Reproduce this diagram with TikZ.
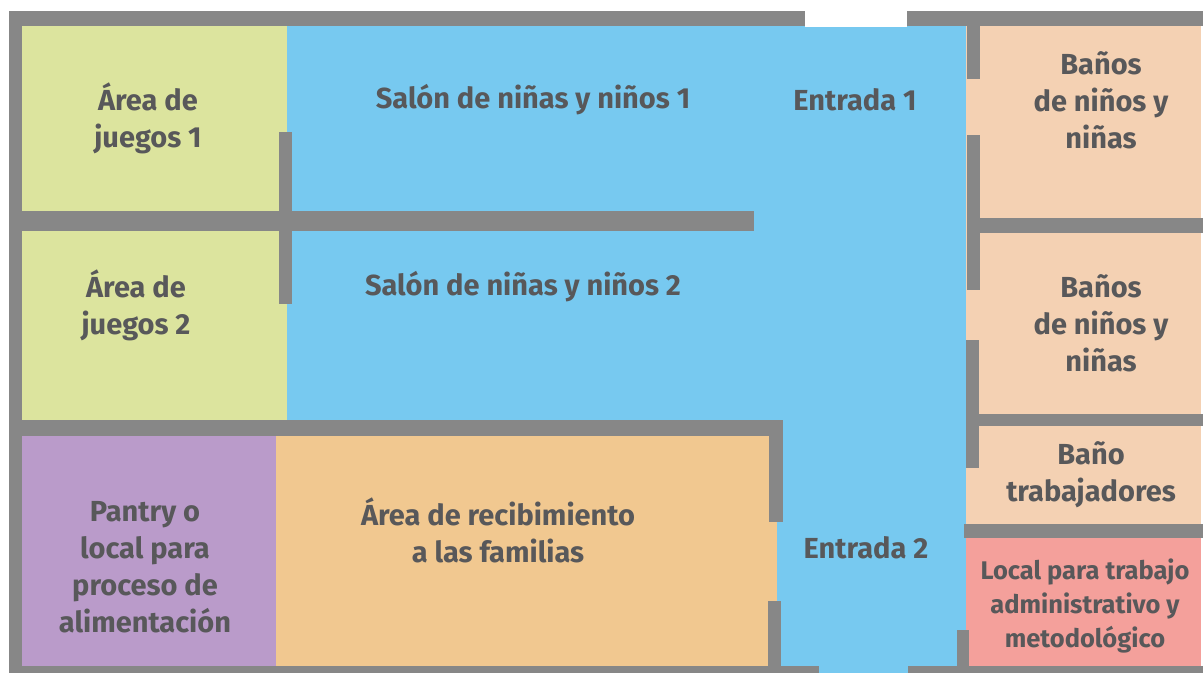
\documentclass[tikz,border=0pt]{standalone}
\usepackage{fontspec}
\setmainfont{Fira Sans}
\definecolor{wallc}{HTML}{878787}
\definecolor{greenc}{HTML}{DCE49E}
\definecolor{bluec}{HTML}{77C9F0}
\definecolor{peachc}{HTML}{F4D1B3}
\definecolor{purplec}{HTML}{BA9BCA}
\definecolor{orangec}{HTML}{F1C890}
\definecolor{redc}{HTML}{F4A09B}
\definecolor{textc}{HTML}{58585A}
\begin{document}
\begin{tikzpicture}[x=1pt,y=-1pt,
  wall/.style={fill=wallc,draw=none},
  room/.style={draw=none},
  label/.style={text=textc,align=center,font=\bfseries\fontsize{29}{37}\selectfont,inner sep=0pt},
  smalllabel/.style={text=textc,align=center,font=\bfseries\fontsize{25.5}{34}\selectfont,inner sep=0pt}]
\useasboundingbox (0,0) rectangle (1203,673);
\fill[white] (0,0) rectangle (1203,673);
% room fills
\fill[greenc] (22,26) rectangle (287,420);
\fill[bluec] (287,26) rectangle (967,420);
\fill[bluec] (769,420) rectangle (967,673);
\fill[white] (805,0) rectangle (907,27);
\fill[peachc] (966,26) rectangle (1201,538);
\fill[redc] (966,538) rectangle (1201,666);
\fill[purplec] (22,436) rectangle (276,666);
\fill[orangec] (276,436) rectangle (777,666);
% walls
\fill[wall] (9,11) rectangle (805,26);
\fill[wall] (907,11) rectangle (1203,26);
\fill[wall] (9,11) rectangle (22,673);
\fill[wall] (9,666) rectangle (819,673);
\fill[wall] (908,666) rectangle (1203,673);
\fill[wall] (22,211) rectangle (754,231);
\fill[wall] (279,132) rectangle (292,304);
\fill[wall] (22,420) rectangle (783,436);
\fill[wall] (769,420) rectangle (783,522);
\fill[wall] (768,601) rectangle (781,666);
\fill[wall] (967,26) rectangle (980,79);
\fill[wall] (967,135) rectangle (980,290);
\fill[wall] (966,340) rectangle (979,468);
\fill[wall] (980,218) rectangle (1203,233);
\fill[wall] (979,414) rectangle (1203,426);
\fill[wall] (964,524) rectangle (1203,538);
\fill[wall] (957,630) rectangle (969,666);
% labels
\node[label] (juegos1) at (148,118) {Área de\\juegos 1};
\node[label] (juegos2) at (136,305) {Área de\\juegos 2};
\node[label] (salon1) at (533,100) {Salón de niñas y niños 1};
\node[label] (salon2) at (523,287) {Salón de niñas y niños 2};
\node[label] (entrada1) at (855,100) {Entrada 1};
\node[label] (banos1) at (1101,100) {Baños\\de niños y\\niñas};
\node[label] (banos2) at (1101,323) {Baños\\de niños y\\niñas};
\node[label] (banotrab) at (1091,475) {Baño\\trabajadores};
\node[label] (entrada2) at (866,548) {Entrada 2};
\node[smalllabel] (local) at (1085,606) {Local para trabajo\\administrativo y\\metodológico};
\node[label] (pantry) at (145,567) {Pantry o\\local para\\proceso de\\alimentación};
\node[label] (recib) at (498,530) {Área de recibimiento\\a las familias};
\end{tikzpicture}
\end{document}
